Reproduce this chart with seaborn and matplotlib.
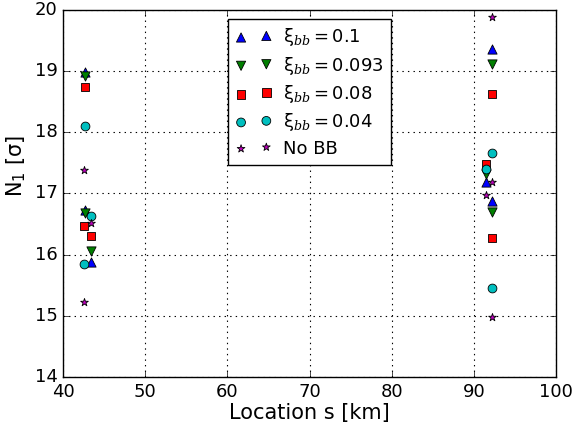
import matplotlib
matplotlib.use("Agg")
import matplotlib.pyplot as plt
import seaborn as sns
import pandas as pd

# Data
labels = ["ξ$_{bb}=0.1$", "ξ$_{bb}=0.093$", "ξ$_{bb}=0.08$", "ξ$_{bb}=0.04$", "No BB"]

s_01 = [42.7, 42.7, 43.4, 92.2, 91.5, 92.2]
n_01 = [18.99, 16.73, 15.88, 19.36, 17.19, 16.88]

s_0093 = [42.7, 42.7, 43.4, 92.2, 91.5, 92.2]
n_0093 = [18.92, 16.68, 16.06, 19.11, 17.32, 16.69]

s_008 = [42.7, 42.6, 43.4, 92.2, 91.5, 92.2]
n_008 = [18.74, 16.47, 16.30, 18.63, 17.48, 16.28]

s_004 = [42.7, 42.5, 43.4, 92.2, 91.5, 92.2]
n_004 = [18.10, 15.84, 16.63, 17.66, 17.40, 15.45]

s_nobb = [42.6, 43.4, 42.6, 92.2, 92.2, 91.5, 92.2]
n_nobb = [17.39, 16.51, 15.23, 19.88, 17.18, 16.98, 14.98]

series_s = [s_01, s_0093, s_008, s_004, s_nobb]
series_n = [n_01, n_0093, n_008, n_004, n_nobb]
markers = ["^", "v", "s", "o", "*"]
colors = ["#0000ff", "#007f00", "#ff0000", "#00bfbf", "#bf00bf"]
sizes = [44, 44, 40, 40, 34]

plt.style.use("classic")
plt.rcParams["font.family"] = ["DejaVu Sans"]
plt.rcParams["mathtext.fontset"] = "custom"
plt.rcParams["mathtext.rm"] = "DejaVu Sans"
plt.rcParams["mathtext.it"] = "DejaVu Serif:italic"
plt.rcParams["mathtext.bf"] = "DejaVu Sans:bold"

fig = plt.figure(figsize=(5.74, 4.30), dpi=100, facecolor="white")
ax = fig.add_axes([0.1098, 0.1233, 0.8589, 0.8535])
ax.set_facecolor("white")

for sv, nv, lab, mk, c, sz in zip(series_s, series_n, labels, markers, colors, sizes):
    df = pd.DataFrame({"s": sv, "n": nv})
    sns.scatterplot(data=df, x="s", y="n", ax=ax, marker=mk, color=c, s=sz,
                    edgecolor="black", linewidth=0.6, label=lab, zorder=3)

ax.set_xlim(40, 100)
ax.set_ylim(14, 20)
ax.set_xticks([40, 50, 60, 70, 80, 90, 100])
ax.set_yticks([14, 15, 16, 17, 18, 19, 20])
ax.tick_params(labelsize=13, direction="in")
ax.grid(True, color="black", linestyle=":", linewidth=0.8)
ax.set_axisbelow(True)
ax.set_xlabel("Location s [km]", fontsize=15, labelpad=2)
ax.set_ylabel("N$_1$ [σ]", fontsize=15)
ax.yaxis.set_label_coords(-0.072, 0.575)

leg = ax.legend(loc="upper center", scatterpoints=2, fontsize=13, frameon=True,
                fancybox=False, borderaxespad=0.5, handletextpad=0.6,
                labelspacing=0.35)
leg.get_frame().set_edgecolor("black")
leg.get_frame().set_facecolor("white")

fig.savefig("out.png", dpi=100, facecolor="white")
